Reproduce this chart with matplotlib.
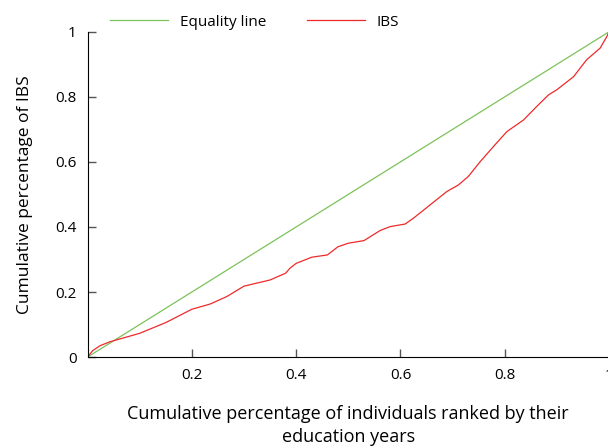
import matplotlib
matplotlib.use('Agg')
import matplotlib.pyplot as plt

plt.rcParams['font.family'] = ['Open Sans', 'DejaVu Sans']

# cumulative share of individuals (ranked by education years) vs cumulative share of IBS
x_ibs = [0.0, 0.01, 0.024, 0.043, 0.1, 0.15, 0.2, 0.235, 0.267, 0.3, 0.35, 0.38,
         0.388, 0.4, 0.43, 0.46, 0.48, 0.5, 0.53, 0.561, 0.58, 0.609, 0.625, 0.657,
         0.689, 0.711, 0.73, 0.753, 0.781, 0.804, 0.836, 0.861, 0.884, 0.90, 0.932,
         0.957, 0.983, 0.996, 1.0]
y_ibs = [0.0, 0.02, 0.035, 0.047, 0.073, 0.106, 0.147, 0.163, 0.186, 0.218, 0.237, 0.258,
         0.273, 0.288, 0.307, 0.314, 0.339, 0.35, 0.358, 0.389, 0.401, 0.409, 0.427, 0.468,
         0.509, 0.529, 0.555, 0.601, 0.652, 0.693, 0.729, 0.770, 0.806, 0.822, 0.862,
         0.914, 0.95, 0.986, 1.0]
x_eq = [0, 1]
y_eq = [0, 1]

xticks = [0.2, 0.4, 0.6, 0.8, 1]
xtick_labels = ['0.2', '0.4', '0.6', '0.8', '1']
yticks = [0, 0.2, 0.4, 0.6, 0.8, 1]
ytick_labels = ['0', '0.2', '0.4', '0.6', '0.8', '1']

fig = plt.figure(figsize=(6.08, 4.48), dpi=100)
ax = fig.add_axes([0.144, 0.203, 0.8577, 0.726])

ax.plot(x_eq, y_eq, color='#7cc25a', linewidth=0.9, label='Equality line')
ax.plot(x_ibs, y_ibs, color='#ee2a2a', linewidth=0.9, label='IBS')

ax.set_xlim(0, 1)
ax.set_ylim(0, 1)
ax.set_xticks(xticks)
ax.set_xticklabels(xtick_labels)
ax.set_yticks(yticks)
ax.set_yticklabels(ytick_labels)
ax.tick_params(direction='in', length=6, width=1, labelsize=11, color='#555555', pad=8)
ax.spines['top'].set_visible(False)
ax.spines['right'].set_visible(False)

ax.set_xlabel('Cumulative percentage of individuals ranked by their\neducation years',
              fontsize=13, labelpad=16, linespacing=1.3)
ax.set_ylabel('Cumulative percentage of IBS', fontsize=12.5, labelpad=16)

ax.legend(loc='center left', bbox_to_anchor=(0.017, 1.03), ncol=2, frameon=False,
          fontsize=11, handlelength=3.8, handletextpad=0.8, columnspacing=2.6)

fig.savefig('out.png', dpi=100)
